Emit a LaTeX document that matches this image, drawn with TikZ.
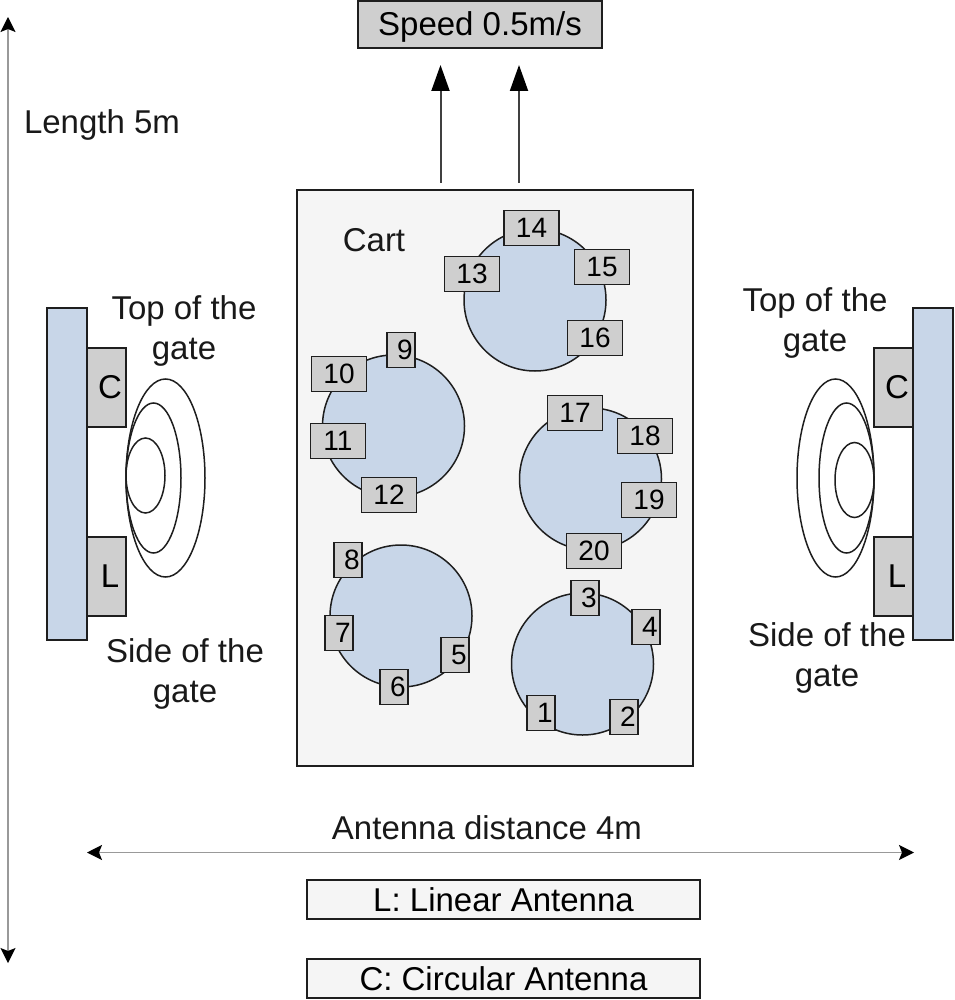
\documentclass[tikz,border=0pt]{standalone}
\usepackage{fontspec}
\setmainfont{Liberation Sans}
\usetikzlibrary{arrows.meta,shapes.geometric}
\definecolor{tagGray}{HTML}{CFCFCF}
\definecolor{dishBlue}{HTML}{C8D6E8}
\definecolor{cartGray}{HTML}{F5F5F5}
\definecolor{edgeDark}{HTML}{1E1E1E}
\tikzset{
	box/.style={draw=edgeDark,line width=1.7pt,rectangle,inner sep=0pt,outer sep=0pt},
	tag/.style={box,fill=tagGray,minimum width=55pt,minimum height=35pt,font=\fontsize{28}{28}\selectfont},
	tagthin/.style={tag,minimum width=28pt,execute at begin node={\hspace*{8pt}}},
	dish/.style={draw=edgeDark,line width=1.5pt,circle,fill=dishBlue,minimum size=142pt,inner sep=0pt,outer sep=0pt},
	lobe/.style={draw=edgeDark,line width=1.5pt,ellipse,inner sep=0pt,outer sep=0pt},
	label/.style={font=\fontsize{33}{40}\selectfont,align=center,text=black!90,inner sep=0pt},
	antenna/.style={box,fill=tagGray,minimum width=39pt,minimum height=79pt,font=\fontsize{33}{33}\selectfont,execute at begin node={\hspace*{7pt}}},
	gate/.style={box,fill=dishBlue,minimum width=40pt,minimum height=332pt},
	legend/.style={box,fill=cartGray,minimum width=393pt,minimum height=39pt,font=\fontsize{33}{33}\selectfont},
	bigarrow/.style={draw=black!75,line width=2pt,-{Triangle[length=26pt,width=18pt,color=black]}},
	thinarrow/.style={draw=black!40,line width=1.5pt,{Stealth[length=15pt,width=15pt,inset=3pt,color=black]}-{Stealth[length=15pt,width=15pt,inset=3pt,color=black]}}
}
\begin{document}
\begin{tikzpicture}[x=1pt,y=-1pt]
\useasboundingbox (0,0) rectangle (954,1000);

% cart and the five dishes
\node [box,fill=cartGray,minimum width=396pt,minimum height=576pt] (cart) at (495,478) {};
\node [label] (cartlabel) at (374,240) {Cart};
\foreach \n / \x / \y in {
				top/535/300,
				left/393.5/426,
				right/590.5/479,
				lowleft/401/616,
				lowright/582.5/664%
						}
	{%
		\node [dish] (dish\n) at (\x,\y) {};
	}

% tags on the dishes
\foreach \n / \x / \y / \s in {
				1/541/713/tagthin,
				2/624/717/tagthin,
				3/585/598/tagthin,
				4/646/627/tagthin,
				5/455/655/tagthin,
				6/394/687/tagthin,
				7/339/633/tagthin,
				8/348/560/tagthin,
				9/401/350/tagthin,
				10/339/374/tag,
				11/338/441/tag,
				12/389/495/tag,
				13/472/274/tag,
				14/531.5/228/tag,
				15/602/267/tag,
				16/595/338/tag,
				17/575/413/tag,
				18/645/436/tag,
				19/649/500/tag,
				20/594/551/tag%
						}
	{%
		\node [\s] (tag\n) at (\x,\y) {\n};
	}

% left gate
\node [gate] (gateL) at (67,474) {};
\node [antenna] (circL) at (106.5,387.5) {C};
\node [antenna] (linL) at (106.5,576.5) {L};
\node [lobe,minimum width=79pt,minimum height=198pt] (lobeLa) at (165.5,478) {};
\node [lobe,minimum width=55pt,minimum height=150pt] (lobeLb) at (153.5,478) {};
\node [lobe,minimum width=39pt,minimum height=75pt] (lobeLc) at (145.5,475.5) {};
\node [label] (topL) at (184,331) {Top of the\\gate};
\node [label] (sideL) at (185,674) {Side of the\\gate};

% right gate
\node [gate] (gateR) at (933,474) {};
\node [antenna] (circR) at (893.5,387.5) {C};
\node [antenna] (linR) at (893.5,576.5) {L};
\node [lobe,minimum width=77pt,minimum height=198pt] (lobeRa) at (835.5,478) {};
\node [lobe,minimum width=55pt,minimum height=150pt] (lobeRb) at (846.5,478) {};
\node [lobe,minimum width=39pt,minimum height=75pt] (lobeRc) at (854.5,480) {};
\node [label] (topR) at (815,323) {Top of the\\gate};
\node [label] (sideR) at (827,658) {Side of the\\gate};

% speed
\node [box,fill=tagGray,minimum width=244pt,minimum height=47pt,font=\fontsize{33}{33}\selectfont,text depth=2pt] (speed) at (480,24.5) {Speed 0.5m/s};
\foreach \n / \x in {a/440.5,b/519}
	{%
		\coordinate (start\n) at (\x,183);
		\coordinate (end\n) at (\x,65);
		\draw [bigarrow] (start\n) -- (end\n);
	}

% length and distance
\coordinate (lenTop) at (8,17);
\coordinate (lenBottom) at (8,963);
\draw [thinarrow] (lenTop) -- (lenBottom);
\node [label] (length) at (102,125) {Length 5m};
\coordinate (distL) at (87,852.5);
\coordinate (distR) at (914,852.5);
\draw [thinarrow] (distL) -- (distR);
\node [label] (distance) at (487,828) {Antenna distance 4m};

% legend
\node [legend] (legendL) at (503.5,899.5) {L: Linear Antenna};
\node [legend] (legendC) at (503.5,978.5) {C: Circular Antenna};

\end{tikzpicture}
\end{document}
